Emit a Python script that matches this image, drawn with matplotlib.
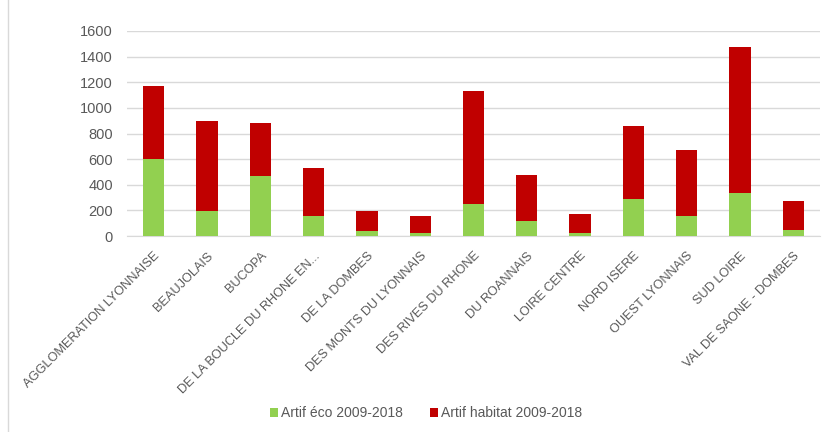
import matplotlib.pyplot as plt
import numpy as np
from matplotlib.lines import Line2D

# EPCI / territoire labels
categories = [
    "AGGLOMERATION LYONNAISE", "BEAUJOLAIS", "BUCOPA", "DE LA BOUCLE DU RHONE EN...",
    "DE LA DOMBES", "DES MONTS DU LYONNAIS", "DES RIVES DU RHONE", "DU ROANNAIS",
    "LOIRE CENTRE", "NORD ISERE", "OUEST LYONNAIS", "SUD LOIRE", "VAL DE SAONE - DOMBES",
]
artif_eco = [600, 198, 471, 159, 42, 26, 250, 115, 23, 292, 159, 338, 49]
artif_habitat = [572, 700, 409, 372, 156, 130, 880, 359, 146, 565, 515, 1136, 222]

plt.rcParams["font.family"] = ["Liberation Sans", "DejaVu Sans"]

fig = plt.figure(figsize=(8.26, 4.32), dpi=100)
ax = fig.add_axes([127 / 826, 1 - 236 / 432, 693 / 826, 205 / 432])

x = np.arange(len(categories))
ax.bar(x, artif_eco, width=0.4, color="#92D050", label="Artif éco 2009-2018", zorder=3)
ax.bar(x, artif_habitat, width=0.4, bottom=artif_eco, color="#C00000",
       label="Artif habitat 2009-2018", zorder=3)

ax.set_xlim(-0.5, len(categories) - 0.5)
ax.set_ylim(0, 1600)
ax.set_yticks(range(0, 1601, 200))
ax.yaxis.grid(True, color="#D9D9D9", linewidth=1, zorder=0)
for s in ["top", "right", "left"]:
    ax.spines[s].set_visible(False)
ax.spines["bottom"].set_color("#D9D9D9")
ax.tick_params(axis="y", length=0, colors="#595959", labelsize=10.5, pad=10)
ax.set_xticks(x)
ax.set_xticklabels(categories, rotation=45, ha="right", rotation_mode="anchor")
ax.tick_params(axis="x", length=0, colors="#595959", labelsize=9.2, pad=10)

ax.legend(loc="center", bbox_to_anchor=(426 / 826, 1 - 413 / 432), bbox_transform=fig.transFigure,
          ncol=2, frameon=False, fontsize=10, labelcolor="#595959",
          handlelength=0.6, handleheight=0.6, handletextpad=0.25, columnspacing=1.9)

fig.add_artist(Line2D([8 / 826, 8 / 826], [0, 1], color="#D9D9D9", linewidth=1))

fig.savefig("out.png", dpi=100)
